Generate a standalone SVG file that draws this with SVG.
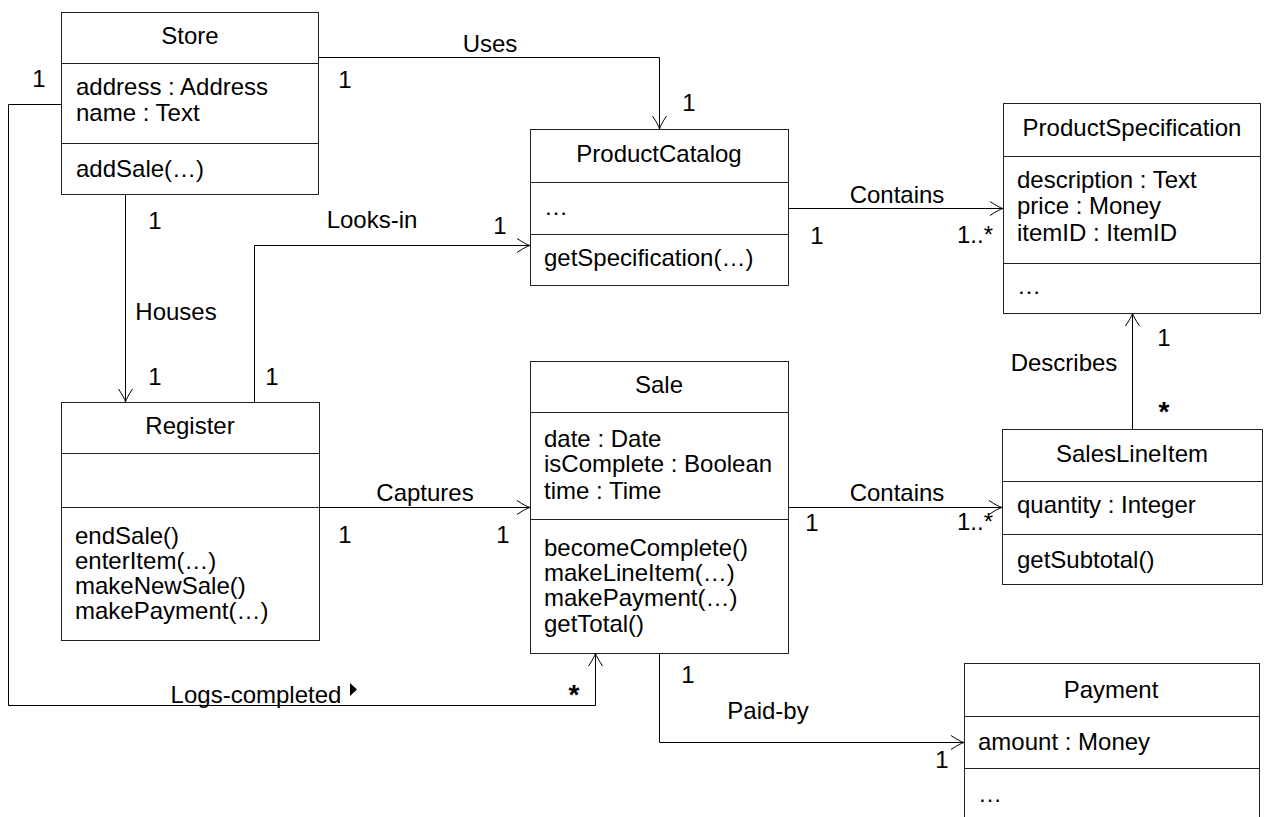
<svg xmlns="http://www.w3.org/2000/svg" width="1267" height="817" viewBox="0 0 1267 817">
<style>
  text { font-family: "Liberation Sans", Arial, sans-serif; font-size: 24px; fill: #000; }
  .t { text-anchor: middle; }
  .m { text-anchor: middle; }
  .b { font-weight: bold; font-size: 28px; }
  .box { fill: #fff; stroke: #222; stroke-width: 1; }
  .sep { stroke: #222; stroke-width: 1; }
  .conn { fill: none; stroke: #000; stroke-width: 1; }
</style>
<defs>
  <marker id="arr" viewBox="-15 -8 16 16" refX="0" refY="0" markerWidth="16" markerHeight="16" markerUnits="userSpaceOnUse" orient="auto" overflow="visible">
    <path d="M -13 -7 Q -4 -1 0 0 Q -4 1 -13 7" fill="none" stroke="#000" stroke-width="1"/>
  </marker>
</defs>
<rect width="1267" height="817" fill="#fff"/>

<g id="connectors">
  <!-- Uses -->
  <polyline class="conn" points="318,57.5 659.5,57.5 659.5,129" marker-end="url(#arr)"/>
  <text class="m" x="490" y="52">Uses</text>
  <text class="m" x="345" y="88">1</text>
  <text class="m" x="689" y="111">1</text>
  <!-- Houses -->
  <line class="conn" x1="125.5" y1="194" x2="125.5" y2="402" marker-end="url(#arr)"/>
  <text class="m" x="176" y="320">Houses</text>
  <text class="m" x="155" y="229">1</text>
  <text class="m" x="155" y="385">1</text>
  <!-- Looks-in -->
  <polyline class="conn" points="254.5,402 254.5,245.5 530,245.5" marker-end="url(#arr)"/>
  <text class="m" x="372" y="228">Looks-in</text>
  <text class="m" x="500" y="234">1</text>
  <text class="m" x="272" y="385">1</text>
  <!-- Contains PC-PS -->
  <line class="conn" x1="788" y1="208.5" x2="1003" y2="208.5" marker-end="url(#arr)"/>
  <text class="m" x="897" y="203">Contains</text>
  <text class="m" x="817" y="244">1</text>
  <text class="m" x="975" y="243">1..*</text>
  <!-- Describes -->
  <line class="conn" x1="1132.5" y1="429" x2="1132.5" y2="313" marker-end="url(#arr)"/>
  <text class="m" x="1064" y="371">Describes</text>
  <text class="m" x="1164" y="346">1</text>
  <text class="m b" x="1164" y="421">*</text>
  <!-- Captures -->
  <line class="conn" x1="319" y1="507.5" x2="530" y2="507.5" marker-end="url(#arr)"/>
  <text class="m" x="425" y="501">Captures</text>
  <text class="m" x="345" y="543">1</text>
  <text class="m" x="503" y="543">1</text>
  <!-- Contains Sale-SLI -->
  <line class="conn" x1="788" y1="507.5" x2="1002" y2="507.5" marker-end="url(#arr)"/>
  <text class="m" x="897" y="501">Contains</text>
  <text class="m" x="812" y="531">1</text>
  <text class="m" x="975" y="530">1..*</text>
  <!-- Paid-by -->
  <polyline class="conn" points="659.5,653 659.5,742.5 964,742.5" marker-end="url(#arr)"/>
  <text class="m" x="768" y="719">Paid-by</text>
  <text class="m" x="688" y="683">1</text>
  <text class="m" x="942" y="768">1</text>
  <!-- Logs-completed -->
  <polyline class="conn" points="61,104.5 8.5,104.5 8.5,705.5 595.5,705.5 595.5,653" marker-end="url(#arr)"/>
  <text class="m" x="256" y="703">Logs-completed</text>
  <polygon points="350,683 357,689.5 350,696" fill="#000"/>
  <text class="m b" x="574" y="704">*</text>
  <text class="m" x="39" y="87">1</text>
</g>

<g id="Store">
  <rect class="box" x="61.5" y="12.5" width="257" height="182"/>
  <line class="sep" x1="61.5" y1="63.5" x2="318.5" y2="63.5"/>
  <line class="sep" x1="61.5" y1="143.5" x2="318.5" y2="143.5"/>
  <text class="t" x="190" y="44">Store</text>
  <text x="76" y="95">address : Address</text>
  <text x="76" y="121">name : Text</text>
  <text x="76" y="177">addSale(…)</text>
</g>

<g id="ProductCatalog">
  <rect class="box" x="530.5" y="129.5" width="258" height="156"/>
  <line class="sep" x1="530.5" y1="182.5" x2="788.5" y2="182.5"/>
  <line class="sep" x1="530.5" y1="234.5" x2="788.5" y2="234.5"/>
  <text class="t" x="659" y="162">ProductCatalog</text>
  <text x="544" y="215">…</text>
  <text x="544" y="266">getSpecification(…)</text>
</g>

<g id="ProductSpecification">
  <rect class="box" x="1003.5" y="103.5" width="257" height="210"/>
  <line class="sep" x1="1003.5" y1="156.5" x2="1260.5" y2="156.5"/>
  <line class="sep" x1="1003.5" y1="263.5" x2="1260.5" y2="263.5"/>
  <text class="t" x="1132" y="136">ProductSpecification</text>
  <text x="1017" y="188">description : Text</text>
  <text x="1017" y="214">price : Money</text>
  <text x="1017" y="241">itemID : ItemID</text>
  <text x="1017" y="294">…</text>
</g>

<g id="Register">
  <rect class="box" x="61.5" y="402.5" width="258" height="238"/>
  <line class="sep" x1="61.5" y1="453.5" x2="319.5" y2="453.5"/>
  <line class="sep" x1="61.5" y1="507.5" x2="319.5" y2="507.5"/>
  <text class="t" x="190" y="434">Register</text>
  <text x="75" y="544">endSale()</text>
  <text x="75" y="569">enterItem(…)</text>
  <text x="75" y="594">makeNewSale()</text>
  <text x="75" y="619">makePayment(…)</text>
</g>

<g id="Sale">
  <rect class="box" x="530.5" y="361.5" width="258" height="292"/>
  <line class="sep" x1="530.5" y1="412.5" x2="788.5" y2="412.5"/>
  <line class="sep" x1="530.5" y1="519.5" x2="788.5" y2="519.5"/>
  <text class="t" x="659" y="393">Sale</text>
  <text x="544" y="447">date : Date</text>
  <text x="544" y="472">isComplete : Boolean</text>
  <text x="544" y="499">time : Time</text>
  <text x="544" y="556">becomeComplete()</text>
  <text x="544" y="581">makeLineItem(…)</text>
  <text x="544" y="606">makePayment(…)</text>
  <text x="544" y="632">getTotal()</text>
</g>

<g id="SalesLineItem">
  <rect class="box" x="1002.5" y="429.5" width="260" height="155"/>
  <line class="sep" x1="1002.5" y1="481.5" x2="1262.5" y2="481.5"/>
  <line class="sep" x1="1002.5" y1="534.5" x2="1262.5" y2="534.5"/>
  <text class="t" x="1132" y="462">SalesLineItem</text>
  <text x="1017" y="513">quantity : Integer</text>
  <text x="1017" y="568">getSubtotal()</text>
</g>

<g id="Payment">
  <rect class="box" x="964.5" y="663.5" width="295" height="200"/>
  <line class="sep" x1="964.5" y1="716.5" x2="1259.5" y2="716.5"/>
  <line class="sep" x1="964.5" y1="768.5" x2="1259.5" y2="768.5"/>
  <text class="t" x="1111" y="698">Payment</text>
  <text x="978" y="750">amount : Money</text>
  <text x="978" y="802">…</text>
</g>
</svg>
